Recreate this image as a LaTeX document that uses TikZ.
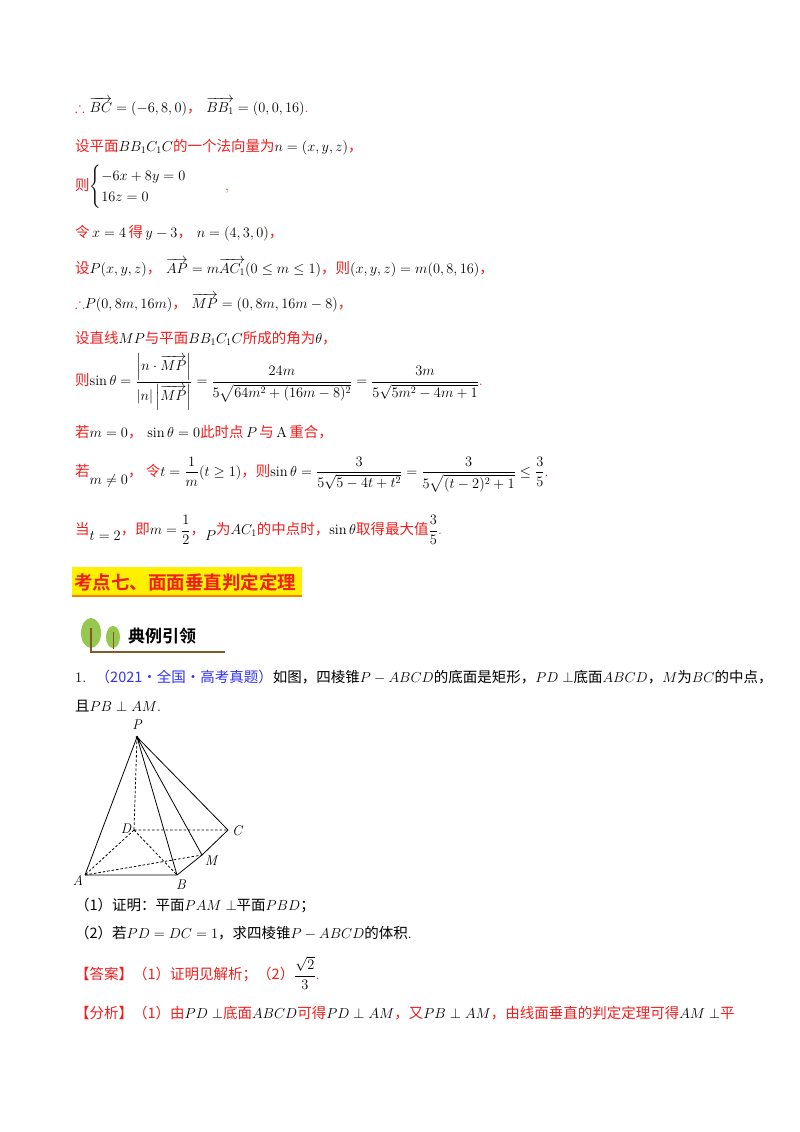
\documentclass[tikz,border=0pt]{standalone}
\usepackage{amsmath,amssymb}
\usepackage{fontspec}
\newfontfamily\cjk{Noto Sans CJK SC}
\newfontfamily\cjkb{Noto Sans CJK SC Bold}
\definecolor{rd}{RGB}{240,30,30}
\definecolor{bl}{RGB}{50,50,240}
\definecolor{yl}{RGB}{255,240,0}
\definecolor{leaf}{RGB}{150,200,80}
\begin{document}
\begin{tikzpicture}[x=1pt,y=-1pt,
  ln/.style={anchor=west,inner sep=0pt,font=\fontsize{14.5}{17}\selectfont},
  edge/.style={line width=0.8pt},
  hid/.style={line width=0.8pt,dashed,dash pattern=on 2.5pt off 2pt},
  lab/.style={font=\fontsize{14}{16}\selectfont\itshape,inner sep=1pt}]
\useasboundingbox (0,0) rectangle (800,1132);
\fill[white] (0,0) rectangle (800,1132);
\node[ln] (l1) at (75,107) {\textcolor{rd}{$\therefore$} $\overrightarrow{BC}=(-6,8,0)$\textcolor{rd}{\cjk ，}\ $\overrightarrow{BB_1}=(0,0,16)$\textcolor{rd}{.}};
\node[ln] (l2) at (75,147) {\textcolor{rd}{\cjk 设平面}$BB_1C_1C$\textcolor{rd}{\cjk 的一个法向量为}$n=(x,y,z)$\textcolor{rd}{\cjk ，}};
\node[ln] (l3) at (75,187) {\textcolor{rd}{\cjk 则}$\begin{cases}-6x+8y=0\\16z=0\end{cases}$\quad\ \ \textcolor{rd}{,}};
\node[ln] (l4) at (75,233) {\textcolor{rd}{\cjk 令}\,$x=4$\,\textcolor{rd}{\cjk 得}\,$y-3$\textcolor{rd}{\cjk ，}\ $n=(4,3,0)$\textcolor{rd}{\cjk ，}};
\node[ln] (l5) at (75,268) {\textcolor{rd}{\cjk 设}$P(x,y,z)$\textcolor{rd}{\cjk ，}\ $\overrightarrow{AP}=m\overrightarrow{AC_1}(0\le m\le1)$\textcolor{rd}{\cjk ，则}$(x,y,z)=m(0,8,16)$\textcolor{rd}{\cjk ，}};
\node[ln] (l6) at (75,303) {\textcolor{rd}{$\therefore$}$P(0,8m,16m)$\textcolor{rd}{\cjk ，}\ $\overrightarrow{MP}=(0,8m,16m-8)$\textcolor{rd}{\cjk ，}};
\node[ln] (l7) at (75,338) {\textcolor{rd}{\cjk 设直线}$MP$\textcolor{rd}{\cjk 与平面}$BB_1C_1C$\textcolor{rd}{\cjk 所成的角为}$\theta$\textcolor{rd}{\cjk ，}};
\node[ln] (l8) at (75,382) {\textcolor{rd}{\cjk 则}$\sin\theta=\dfrac{\left|n\cdot\overrightarrow{MP}\right|}{|n|\left|\overrightarrow{MP}\right|}=\dfrac{24m}{5\sqrt{64m^2+(16m-8)^2}}=\dfrac{3m}{5\sqrt{5m^2-4m+1}}$\textcolor{rd}{.}};
\node[ln] (l9) at (75,432) {\textcolor{rd}{\cjk 若}$m=0$\textcolor{rd}{\cjk ，}\ $\sin\theta=0$\textcolor{rd}{\cjk 此时点}\,$P$\,\textcolor{rd}{\cjk 与}\,A\,\textcolor{rd}{\cjk 重合，}};
\node[ln] (l10) at (75,475) {\textcolor{rd}{\cjk 若}\raisebox{-8pt}{$m\ne0$}\textcolor{rd}{\cjk ，\ 令}$t=\dfrac{1}{m}(t\ge1)$\textcolor{rd}{\cjk ，则}$\sin\theta=\dfrac{3}{5\sqrt{5-4t+t^2}}=\dfrac{3}{5\sqrt{(t-2)^2+1}}\le\dfrac{3}{5}$\textcolor{rd}{.}};
\node[ln] (l11) at (75,530) {\textcolor{rd}{\cjk 当}\raisebox{-6pt}{$t=2$}\textcolor{rd}{\cjk ，即}$m=\dfrac12$\textcolor{rd}{\cjk ，}\raisebox{-6pt}{$P$}\textcolor{rd}{\cjk 为}$AC_1$\textcolor{rd}{\cjk 的中点时，}$\sin\theta$\textcolor{rd}{\cjk 取得最大值}$\dfrac35$\textcolor{rd}{.}};
% heading
\fill[yl] (72,567) rectangle (302,597);
\draw[orange,line width=1.5pt] (72,596) -- (302,596);
\node[ln,font=\fontsize{18.5}{22}\selectfont\cjkb,text=rd] (h1) at (74,582) {考点七、面面垂直判定定理};
% icon
\fill[leaf] (91,633) ellipse (10 and 15);
\fill[leaf] (113,637) ellipse (7 and 11);
\draw[brown!70!black,line width=1.2pt] (91,628) -- (91,652) -- (225,652);
\draw[brown!70!black,line width=1pt] (113,632) -- (113,649);
\node[ln,font=\fontsize{17}{20}\selectfont\cjkb] (h2) at (128,636) {典例引领};
% problem
\node[ln] (p1) at (75,677) {1.\ \ \textcolor{bl}{\cjk （2021·全国·高考真题）}{\cjk 如图，四棱锥}$P-ABCD${\cjk 的底面是矩形，}$PD\perp${\cjk 底面}$ABCD${\cjk ，}$M${\cjk 为}$BC${\cjk 的中点，}};
\node[ln] (p2) at (75,706) {{\cjk 且}$PB\perp AM$.};
% figure
\coordinate (P) at (137,737);
\coordinate (D) at (134,830);
\coordinate (C) at (228,830);
\coordinate (M) at (202,855);
\coordinate (B) at (177,875);
\coordinate (A) at (85,875);
\draw[edge] (P)--(A) (P)--(B) (P)--(M) (P)--(C) (A)--(B)--(M)--(C);
\draw[hid] (P)--(D) (D)--(C) (D)--(A) (D)--(B) (A)--(M);
\fill (P) circle (1.5);
\node[lab] (nP) at (137,725) {P};
\node[lab] (nD) at (126,829) {D};
\node[lab] (nC) at (237,831) {C};
\node[lab] (nM) at (211,861) {M};
\node[lab] (nB) at (181,885) {B};
\node[lab] (nA) at (78,880) {A};
\node[ln] (q1) at (75,905) {{\cjk （1）证明：平面}$PAM\perp${\cjk 平面}$PBD${\cjk ；}};
\node[ln] (q2) at (75,933) {{\cjk （2）若}$PD=DC=1${\cjk ，求四棱锥}$P-ABCD${\cjk 的体积}.};
\node[ln] (q3) at (75,973) {\textcolor{rd}{\cjk 【答案】（1）证明见解析；（2）}$\dfrac{\sqrt2}{3}$\textcolor{rd}{.}};
\node[ln] (q4) at (75,1013) {\textcolor{rd}{\cjk 【分析】（1）由}$PD\perp$\textcolor{rd}{\cjk 底面}$ABCD$\textcolor{rd}{\cjk 可得}$PD\perp AM$\textcolor{rd}{\cjk ，又}$PB\perp AM$\textcolor{rd}{\cjk ，由线面垂直的判定定理可得}$AM\perp$\textcolor{rd}{\cjk 平}};
\end{tikzpicture}
\end{document}
